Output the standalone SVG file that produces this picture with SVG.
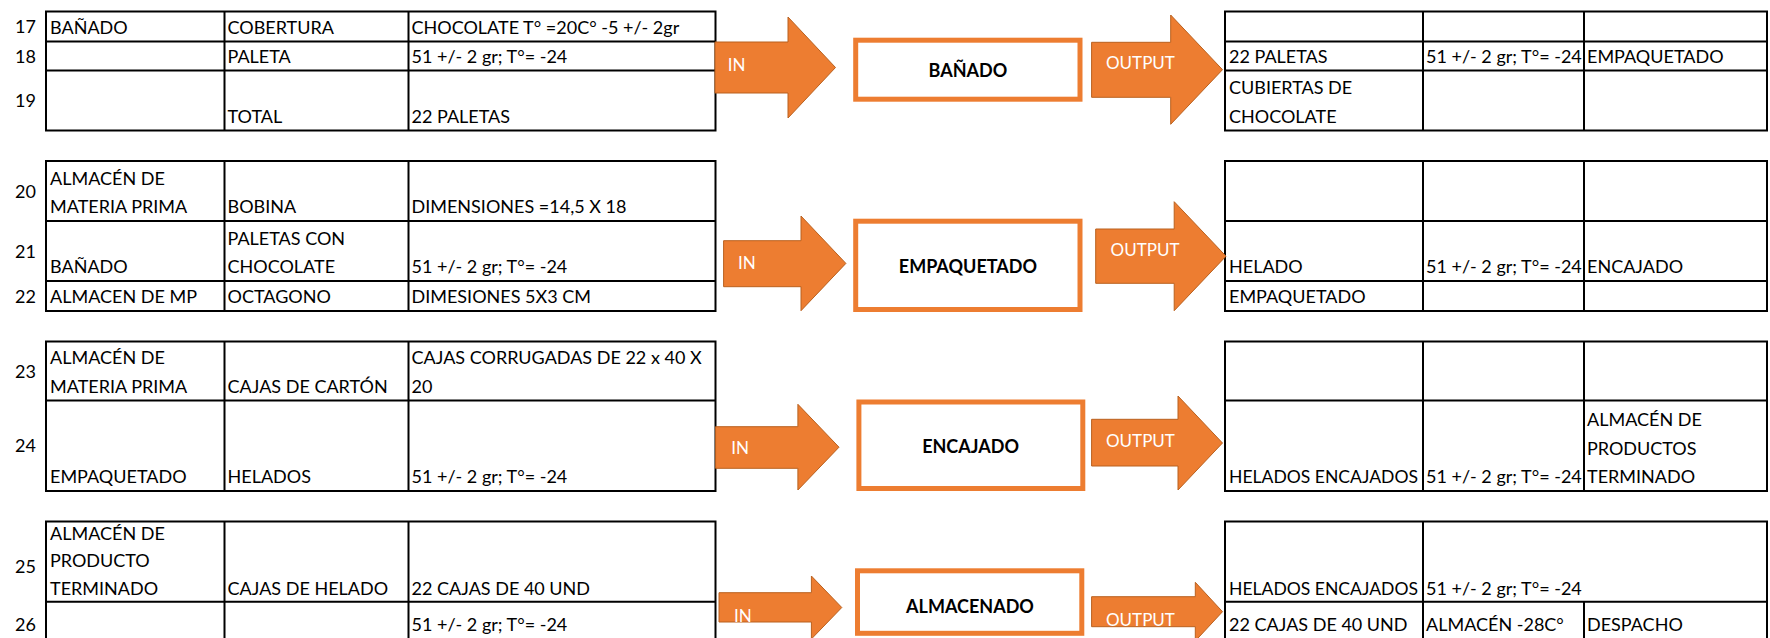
<svg xmlns="http://www.w3.org/2000/svg" width="1770" height="638" viewBox="0 0 1770 638">
<style>
.grid{fill:none;stroke:#000;stroke-width:2;stroke-linecap:square}
.t{font-family:Lato,"Liberation Sans",sans-serif;font-size:18px;fill:#000}
.rn{font-family:Lato,"Liberation Sans",sans-serif;font-size:18px;fill:#000;text-anchor:end}
.arr{fill:#ED7D31;stroke:#B9611F;stroke-width:1}
.al{font-family:Lato,"Liberation Sans",sans-serif;font-size:17px;fill:#fff}
.box{fill:#fff;stroke:#ED7D31;stroke-width:5}
.bl{font-family:Lato,"Liberation Sans",sans-serif;font-size:18px;font-weight:bold;fill:#000;text-anchor:middle}
</style>
<rect width="1770" height="638" fill="#fff"/>

<g id="rownums">
<text class="rn" x="36" y="33">17</text>
<text class="rn" x="36" y="62.5">18</text>
<text class="rn" x="36" y="107">19</text>
<text class="rn" x="36" y="197.5">20</text>
<text class="rn" x="36" y="257.5">21</text>
<text class="rn" x="36" y="302.5">22</text>
<text class="rn" x="36" y="377.5">23</text>
<text class="rn" x="36" y="452">24</text>
<text class="rn" x="36" y="573">25</text>
<text class="rn" x="36" y="631">26</text>
</g>

<g id="in-table-1">
<path class="grid" d="M46 11.5H715.5V130.5H46Z M46 41.5H715.5 M46 70.5H715.5 M224.5 11.5V130.5 M408.5 11.5V130.5"/>
<text class="t" x="50" y="33.5">BAÑADO</text>
<text class="t" x="227.5" y="33.5">COBERTURA</text>
<text class="t" x="411.5" y="33.5">CHOCOLATE T° =20C° -5 +/- 2gr</text>
<text class="t" x="227.5" y="62.5">PALETA</text>
<text class="t" x="411.5" y="62.5">51 +/- 2 gr; T°= -24</text>
<text class="t" x="227.5" y="122.5">TOTAL</text>
<text class="t" x="411.5" y="122.5">22 PALETAS</text>
</g>

<g id="out-table-1">
<path class="grid" d="M1225 11.5H1767V130.5H1225Z M1225 41.5H1767 M1225 70.5H1767 M1423 11.5V130.5 M1584 11.5V130.5"/>
<text class="t" x="1229" y="62.5">22 PALETAS</text>
<text class="t" x="1426" y="62.5">51 +/- 2 gr; T°= -24</text>
<text class="t" x="1587" y="62.5">EMPAQUETADO</text>
<text class="t" x="1229" y="94">CUBIERTAS DE</text>
<text class="t" x="1229" y="122.5">CHOCOLATE</text>
</g>

<g id="in-table-2">
<path class="grid" d="M46 161H715.5V311H46Z M46 221H715.5 M46 281H715.5 M224.5 161V311 M408.5 161V311"/>
<text class="t" x="50" y="184.5">ALMACÉN DE</text>
<text class="t" x="50" y="213">MATERIA PRIMA</text>
<text class="t" x="227.5" y="213">BOBINA</text>
<text class="t" x="411.5" y="213">DIMENSIONES =14,5 X 18</text>
<text class="t" x="50" y="273">BAÑADO</text>
<text class="t" x="227.5" y="244.5">PALETAS CON</text>
<text class="t" x="227.5" y="273">CHOCOLATE</text>
<text class="t" x="411.5" y="273">51 +/- 2 gr; T°= -24</text>
<text class="t" x="50" y="303">ALMACEN DE MP</text>
<text class="t" x="227.5" y="303">OCTAGONO</text>
<text class="t" x="411.5" y="303">DIMESIONES 5X3 CM</text>
</g>

<g id="out-table-2">
<path class="grid" d="M1225 161H1767V311H1225Z M1225 221H1767 M1225 281H1767 M1423 161V311 M1584 161V311"/>
<text class="t" x="1229" y="273">HELADO</text>
<text class="t" x="1426" y="273">51 +/- 2 gr; T°= -24</text>
<text class="t" x="1587" y="273">ENCAJADO</text>
<text class="t" x="1229" y="303">EMPAQUETADO</text>
</g>

<g id="in-table-3">
<path class="grid" d="M46 341.5H715.5V491H46Z M46 400.5H715.5 M224.5 341.5V491 M408.5 341.5V491"/>
<text class="t" x="50" y="364">ALMACÉN DE</text>
<text class="t" x="50" y="392.5">MATERIA PRIMA</text>
<text class="t" x="227.5" y="392.5">CAJAS DE CARTÓN</text>
<text class="t" x="411.5" y="364">CAJAS CORRUGADAS DE 22 x 40 X</text>
<text class="t" x="411.5" y="392.5">20</text>
<text class="t" x="50" y="483">EMPAQUETADO</text>
<text class="t" x="227.5" y="483">HELADOS</text>
<text class="t" x="411.5" y="483">51 +/- 2 gr; T°= -24</text>
</g>

<g id="out-table-3">
<path class="grid" d="M1225 341.5H1767V491H1225Z M1225 400.5H1767 M1423 341.5V491 M1584 341.5V491"/>
<text class="t" x="1229" y="483" textLength="189" lengthAdjust="spacingAndGlyphs">HELADOS ENCAJADOS</text>
<text class="t" x="1426" y="483">51 +/- 2 gr; T°= -24</text>
<text class="t" x="1587" y="426">ALMACÉN DE</text>
<text class="t" x="1587" y="454.5">PRODUCTOS</text>
<text class="t" x="1587" y="483">TERMINADO</text>
</g>

<g id="in-table-4">
<path class="grid" d="M46 642V521.5H715.5V642 M46 601.7H715.5 M224.5 521.5V642 M408.5 521.5V642"/>
<text class="t" x="50" y="539.5">ALMACÉN DE</text>
<text class="t" x="50" y="567">PRODUCTO</text>
<text class="t" x="50" y="594.5">TERMINADO</text>
<text class="t" x="227.5" y="594.5">CAJAS DE HELADO</text>
<text class="t" x="411.5" y="594.5">22 CAJAS DE 40 UND</text>
<text class="t" x="411.5" y="631">51 +/- 2 gr; T°= -24</text>
</g>

<g id="out-table-4">
<path class="grid" d="M1225 642V521.5H1767V642 M1225 601.7H1767 M1423 521.5V642 M1584 601.7V642"/>
<text class="t" x="1229" y="594.5" textLength="189" lengthAdjust="spacingAndGlyphs">HELADOS ENCAJADOS</text>
<text class="t" x="1426" y="594.5">51 +/- 2 gr; T°= -24</text>
<text class="t" x="1229" y="631">22 CAJAS DE 40 UND</text>
<text class="t" x="1426" y="631">ALMACÉN -28C°</text>
<text class="t" x="1587" y="631">DESPACHO</text>
</g>

<g id="process-banado">
<rect class="box" x="855.7" y="40.2" width="224.3" height="59"/>
<text class="bl" x="967.9" y="77.3">BAÑADO</text>
</g>
<g id="process-empaquetado">
<rect class="box" x="855.7" y="221.2" width="224.3" height="88.3"/>
<text class="bl" x="967.9" y="273.3">EMPAQUETADO</text>
</g>
<g id="process-encajado">
<rect class="box" x="858.9" y="402" width="223.9" height="86.5"/>
<text class="bl" x="970.6" y="453.3">ENCAJADO</text>
</g>
<g id="process-almacenado">
<rect class="box" x="857.5" y="570.8" width="224.3" height="62.5"/>
<text class="bl" x="970" y="612.7">ALMACENADO</text>
</g>

<g id="connectors">
<polygon class="arr" points="715,42 788,42 788,17 835.5,67.5 788,118 788,93 715,93"/>
<text class="al" x="727.7" y="71">IN</text>
<polygon class="arr" points="1091.6,42.3 1170.7,42.3 1170.7,15 1222.5,69.7 1170.7,124.3 1170.7,97.3 1091.6,97.3"/>
<text class="al" x="1106" y="69.3">OUTPUT</text>

<polygon class="arr" points="723.6,240.7 801,240.7 801,216 845.9,263.4 801,310.7 801,286.7 723.6,286.7"/>
<text class="al" x="738" y="269">IN</text>
<polygon class="arr" points="1095.7,229 1174.2,229 1174.2,201.7 1226,256.2 1174.2,310.7 1174.2,283.3 1095.7,283.3"/>
<text class="al" x="1110.6" y="256">OUTPUT</text>

<polygon class="arr" points="715.6,426.7 797.9,426.7 797.9,404.3 839,447.2 797.9,490 797.9,468.3 715.6,468.3"/>
<text class="al" x="731.2" y="454.3">IN</text>
<polygon class="arr" points="1091.6,419.3 1178,419.3 1178,396 1222.5,443 1178,490 1178,466 1091.6,466"/>
<text class="al" x="1106" y="446.7">OUTPUT</text>

<polygon class="arr" points="719,592.7 811.4,592.7 811.4,576 841.8,607.5 811.4,639 811.4,622 719,622"/>
<text class="al" x="734" y="621.7">IN</text>
<polygon class="arr" points="1091.6,596.7 1195.3,596.7 1195.3,582.3 1222.5,611.7 1195.3,641 1195.3,626.7 1091.6,626.7"/>
<text class="al" x="1106" y="626">OUTPUT</text>
</g>
</svg>
